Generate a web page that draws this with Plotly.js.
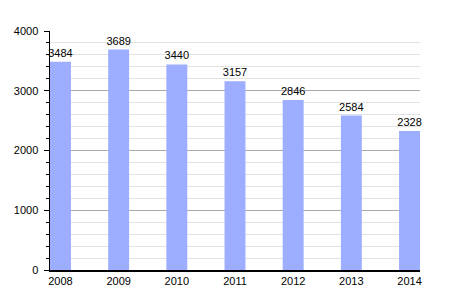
<!DOCTYPE html>
<html><head><meta charset="utf-8">
<script src="https://cdn.plot.ly/plotly-3.0.1.min.js"></script>
<style>html,body{margin:0;padding:0;background:#fff}</style>
</head><body>
<div id="chart" style="width:450px;height:300px"></div>
<script>
const years = ['2008','2009','2010','2011','2012','2013','2014'];
const values = [3484, 3689, 3440, 3157, 2846, 2584, 2328];
const yTicks = [0, 1000, 2000, 3000, 4000];

Plotly.newPlot('chart', [{
  type: 'bar',
  x: years,
  y: values,
  width: 0.36,
  marker: {color: '#9dadff'},
  text: values.map(String),
  textposition: 'outside',
  constraintext: 'none',
  cliponaxis: false,
  textfont: {family: 'Liberation Sans, Arial, sans-serif', size: 11, color: '#000'},
  hoverinfo: 'none'
}], {
  width: 450, height: 300,
  margin: {l: 50, r: 30, t: 31, b: 30},
  paper_bgcolor: '#fff', plot_bgcolor: '#fff',
  showlegend: false,
  font: {family: 'Liberation Sans, Arial, sans-serif', size: 11, color: '#000'},
  xaxis: {
    type: 'category',
    range: [-0.18, 6.18],
    showline: true, linecolor: '#000', linewidth: 1.5,
    ticks: '', showgrid: false, zeroline: false,
    tickfont: {size: 11}
  },
  yaxis: {
    range: [0, 4000],
    tickvals: yTicks,
    ticktext: yTicks.map(String),
    showline: true, linecolor: '#000', linewidth: 1.5,
    ticks: 'outside', ticklen: 5, tickcolor: '#000',
    ticklabelstandoff: 3,
    showgrid: true, gridcolor: '#aaaaaa', gridwidth: 1,
    zeroline: false,
    minor: {dtick: 200, showgrid: true, gridcolor: '#e2e2e2', gridwidth: 1, ticks: 'outside', ticklen: 3, tickcolor: '#000'},
    tickfont: {size: 11}
  },
  bargap: 0.64
}, {staticPlot: true, displayModeBar: false});
</script>
</body></html>
